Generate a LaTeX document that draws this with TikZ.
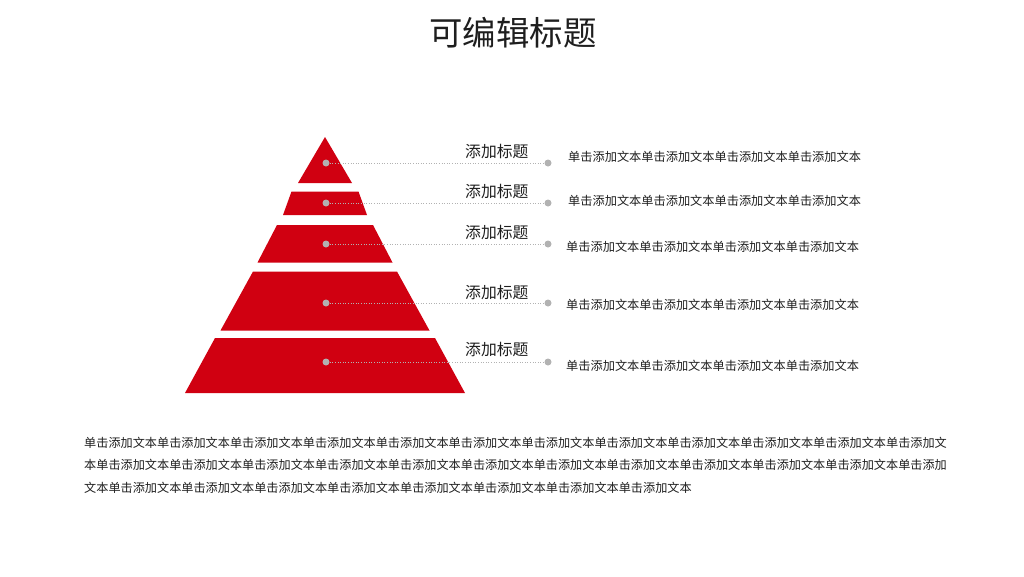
\documentclass[tikz,border=0pt]{standalone}
\usepackage{fontspec}
\setmainfont{Noto Sans CJK SC}
\usepackage{xcolor}
\definecolor{pyrred}{RGB}{208,0,17}
\definecolor{dotgray}{RGB}{178,178,178}
\definecolor{txtgray}{RGB}{30,30,30}
\tikzset{layer/.style={fill=pyrred,draw=none},
 dot/.style={circle,fill=dotgray,draw=none,inner sep=0pt,minimum size=7pt},
 leader/.style={draw=dotgray,dotted,line width=0.6pt},
 heading/.style={font=\fontsize{15.8}{18}\selectfont,text=txtgray,anchor=west,inner sep=0pt},
 desc/.style={font=\fontsize{12.2}{14}\selectfont,text=txtgray,anchor=west,inner sep=0pt},
 }

\begin{document}
\begin{tikzpicture}[x=1pt,y=-1pt]
        \useasboundingbox (0,0) rectangle (1024,576);
        \node[font=\fontsize{33.4}{36}\selectfont,text=txtgray] (title) at (513,33) {可编辑标题};
        % pyramid
        \fill[layer] (325,137) -- (352,183) -- (298,183) -- cycle;
        \fill[layer] (291.5,191.5) -- (358.5,191.5) -- (367,215) -- (283,215) -- cycle;
        \fill[layer] (277,225) -- (373,225) -- (392.5,262.5) -- (257.5,262.5) -- cycle;
        \fill[layer] (253,271.5) -- (397,271.5) -- (429.5,330.5) -- (220.5,330.5) -- cycle;
        \fill[layer] (215,338) -- (435,338) -- (465,393) -- (185,393) -- cycle;
        % leaders
        \node[dot] (a1) at (326,163) {};
        \node[dot] (b1) at (548,163) {};
        \node[dot] (a2) at (326,203) {};
        \node[dot] (b2) at (548,203) {};
        \node[dot] (a3) at (326,244) {};
        \node[dot] (b3) at (548,244) {};
        \node[dot] (a4) at (326,303) {};
        \node[dot] (b4) at (548,303) {};
        \node[dot] (a5) at (326,362) {};
        \node[dot] (b5) at (548,362) {};
        \draw[leader] (a1) -- (b1);
        \draw[leader] (a2) -- (b2);
        \draw[leader] (a3) -- (b3);
        \draw[leader] (a4) -- (b4);
        \draw[leader] (a5) -- (b5);
        % labels
        \node[heading] (h1) at (465,151) {添加标题};
        \node[heading] (h2) at (465,191) {添加标题};
        \node[heading] (h3) at (465,232) {添加标题};
        \node[heading] (h4) at (465,292) {添加标题};
        \node[heading] (h5) at (465,349) {添加标题};
        \node[desc] (t1) at (568,157) {单击添加文本单击添加文本单击添加文本单击添加文本};
        \node[desc] (t2) at (568,201) {单击添加文本单击添加文本单击添加文本单击添加文本};
        \node[desc] (t3) at (566,247) {单击添加文本单击添加文本单击添加文本单击添加文本};
        \node[desc] (t4) at (566,305) {单击添加文本单击添加文本单击添加文本单击添加文本};
        \node[desc] (t5) at (566,366) {单击添加文本单击添加文本单击添加文本单击添加文本};
        % body text
        \node[anchor=north west,align=left,inner sep=0pt,text=txtgray,font=\fontsize{12.15}{22.5}\selectfont] (body) at (84,436.5) {单击添加文本单击添加文本单击添加文本单击添加文本单击添加文本单击添加文本单击添加文本单击添加文本单击添加文本单击添加文本单击添加文本单击添加文\\本单击添加文本单击添加文本单击添加文本单击添加文本单击添加文本单击添加文本单击添加文本单击添加文本单击添加文本单击添加文本单击添加文本单击添加\\文本单击添加文本单击添加文本单击添加文本单击添加文本单击添加文本单击添加文本单击添加文本单击添加文本};
    \end{tikzpicture}
\end{document}
